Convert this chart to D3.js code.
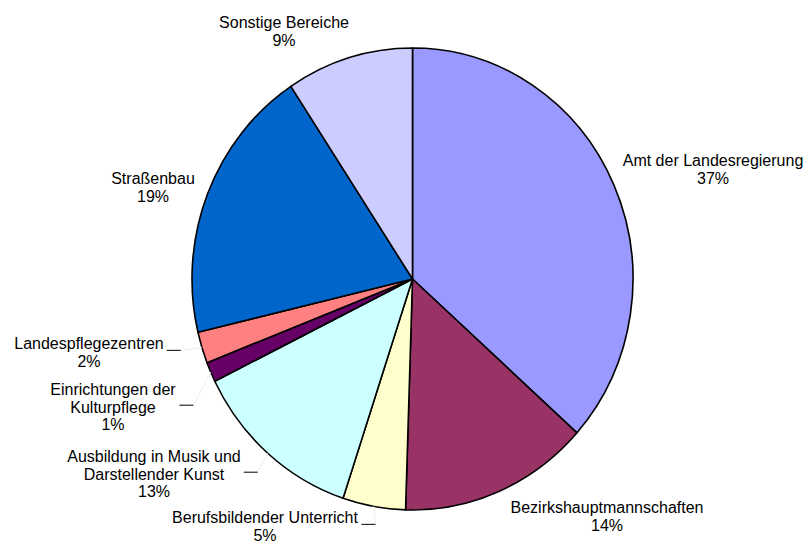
<!DOCTYPE html>
<html>
<head>
<meta charset="utf-8">
<script src="https://cdn.jsdelivr.net/npm/d3@7"></script>
<style>
  body { margin: 0; background: #fff; }
  svg { display: block; }
  text { font-family: Arial, "Liberation Sans", sans-serif; font-size: 16px; fill: #000; }
</style>
</head>
<body>
<div id="chart"></div>
<script>
// Data: share of staff by area (percent), clockwise from 12 o'clock
const categories = [
    ["Amt der Landesregierung"],
    ["Bezirkshauptmannschaften"],
    ["Berufsbildender Unterricht"],
    ["Ausbildung in Musik und", "Darstellender Kunst"],
    ["Einrichtungen der", "Kulturpflege"],
    ["Landespflegezentren"],
    ["Straßenbau"],
    ["Sonstige Bereiche"]
];
const values = [36.6, 13.9, 4.6, 12.6, 1.4, 2.2, 19.4, 9.3];
const colors = ["#9999FF", "#993366", "#FFFFCC", "#CCFFFF", "#660066", "#FF8080", "#0066CC", "#CCCCFF"];

// Layout
const width = 805;
const height = 542;
const cx = 412.5, cy = 279;
const rx = 220.5, ry = 231;
const lineGap = 17.7;
// label anchors: text centre x, first baseline y
const labelAnchors = [[713, 166], [607, 513], [265, 523], [154, 462], [113, 395], [89, 349], [153, 184], [284, 28]];
// labels that were moved away from their slice get a leader tick
const withLeader = [false, false, true, true, true, true, false, false];

const svg = d3.select("#chart")
    .append("svg")
    .attr("width", width)
    .attr("height", height);

const total = d3.sum(values);
const pie = d3.pie().sort(null).value(d => d)(values);
const arc = d3.arc().innerRadius(0).outerRadius(ry);

// pie is drawn as a circle and stretched horizontally into an ellipse
const pieG = svg.append("g")
    .attr("transform", `translate(${cx},${cy}) scale(${rx / ry},1)`);

pieG.selectAll("path")
    .data(pie)
    .join("path")
    .attr("d", arc)
    .attr("fill", (d, i) => colors[i])
    .attr("stroke", "#000")
    .attr("stroke-width", 1.6)
    .attr("stroke-linejoin", "round")
    .attr("vector-effect", "non-scaling-stroke");

// Labels
const labels = svg.append("g");
pie.forEach((d, i) => {
    const lines = categories[i].concat([Math.round(d.value / total * 100) + "%"]);
    const [x, y] = labelAnchors[i];
    const t = labels.append("text")
        .attr("text-anchor", "middle")
        .attr("x", x)
        .attr("y", y);
    lines.forEach((s, j) => {
        t.append("tspan")
            .attr("x", x)
            .attr("y", y + j * lineGap)
            .text(s);
    });

    if (withLeader[i]) {
        const box = t.node().getBBox();
        const tx = box.x + box.width + 3;
        const ty = box.y + box.height / 2 - 2;
        // faint line to the slice edge
        const mid = (d.startAngle + d.endAngle) / 2;
        const ex = cx + rx * Math.sin(mid);
        const ey = cy - ry * Math.cos(mid);
        labels.append("line")
            .attr("x1", tx + 14).attr("y1", ty)
            .attr("x2", ex).attr("y2", ey)
            .attr("stroke", "#eeeeee")
            .attr("stroke-width", 1);
        labels.append("line")
            .attr("x1", tx).attr("y1", ty)
            .attr("x2", tx + 14).attr("y2", ty)
            .attr("stroke", "#000")
            .attr("stroke-width", 1);
    }
});
</script>
</body>
</html>
